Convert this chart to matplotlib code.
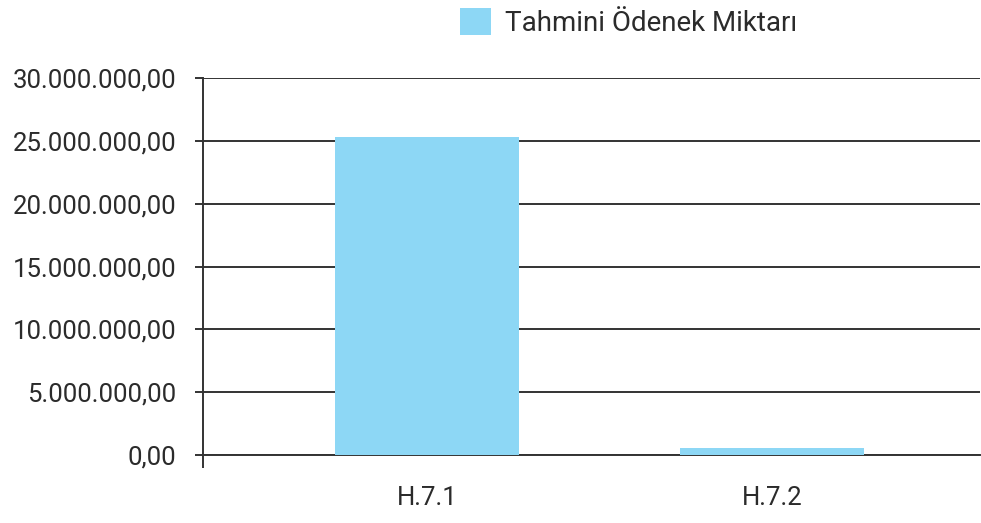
import matplotlib.pyplot as plt
from matplotlib.patches import Patch

categories = ["H.7.1", "H.7.2"]
values = [25300000, 560000]
series_name = "Tahmini Ödenek Miktarı"
yticks = [0, 5000000, 10000000, 15000000, 20000000, 25000000, 30000000]

def tr_format(v):
    s = f"{v:,.2f}"
    return s.replace(",", "X").replace(".", ",").replace("X", ".")

plt.rcParams['font.family'] = ['Roboto', 'DejaVu Sans']
text_color = "#2b2b2b"
bar_color = "#8dd7f5"

fig = plt.figure(figsize=(9.81, 5.23), dpi=100)
ax = fig.add_axes([203/981, 68/523, 777/981, 377/523])

x = range(len(categories))
ax.bar(x, values, width=0.533, color=bar_color, zorder=3)

ax.set_ylim(0, 30000000)
ax.set_xlim(-0.649, 1.603)
ax.set_yticks(yticks)
ax.set_yticklabels([tr_format(v) for v in yticks])
ax.set_xticks(list(x))
ax.set_xticklabels(categories)
ax.grid(axis="y", color="#333333", linewidth=1.4, zorder=1)

for s in ["top", "right"]:
    ax.spines[s].set_visible(False)
ax.spines["left"].set_color("#333333")
ax.spines["left"].set_linewidth(1.4)
ax.spines["bottom"].set_color("#333333")
ax.spines["bottom"].set_linewidth(1.4)

ax.tick_params(axis="y", length=6, width=1.4, color="#333333", labelsize=18.5,
               labelcolor=text_color, pad=13)
ax.tick_params(axis="x", length=0, labelsize=18.5, labelcolor=text_color, pad=22)
ax.set_xticks([-0.649], minor=True)
ax.tick_params(axis="x", which="minor", length=9, width=1.4, color="#333333")

handles = [Patch(facecolor=bar_color, label=series_name)]
fig.legend(handles=handles, loc="upper left", bbox_to_anchor=(449/981, 1.005),
           frameon=False, fontsize=20, handlelength=1.1, handleheight=1.1,
           handletextpad=0.5, labelcolor=text_color, borderaxespad=0.0)

fig.savefig("out.png", dpi=100)
